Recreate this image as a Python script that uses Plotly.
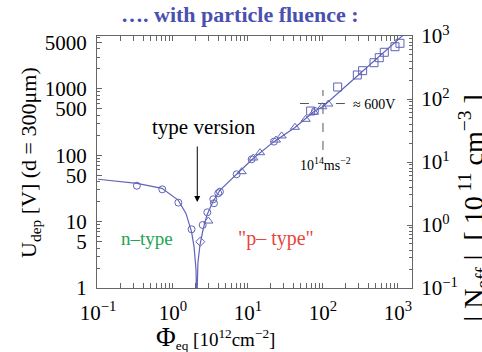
import plotly.graph_objects as go

# Depletion voltage (V) vs. equivalent fluence (10^12 cm^-2), per marker family
phi_circ = [0.33, 0.72, 1.18, 1.77, 2.49, 2.87, 3.45, 3.52, 4.02, 4.23, 7.06, 11.2, 22.2, 78.2]
u_circ = [34.7, 30.6, 19.3, 7.66, 8.89, 13.8, 21.7, 18.9, 26.7, 28.2, 51.6, 86.7, 160, 463]

phi_diam = [2.31]
u_diam = [4.98]

phi_tri = [2.96, 8.24, 11.8, 14.5, 23.6, 28.1, 42.3, 58.8, 75.9, 97.9, 118]
u_tri = [10.2, 56.4, 90.8, 109, 169, 195, 263, 347, 443, 537, 590]

phi_sq = [68.5, 157, 287, 338, 479, 563, 657, 912, 1063]
u_sq = [463, 1064, 1614, 1874, 2472, 2940, 3545, 4305, 4842]

# Fitted |U_dep| curve with type inversion near 2e12 cm^-2
phi_fit = [0.1, 0.331, 0.713, 1.17, 1.49, 1.77, 1.91, 2.03, 2.07, 2.15, 2.29, 2.51,
           2.84, 3.41, 4.24, 7.06, 11.7, 22.2, 42.3, 75.9, 100, 229, 575, 1177]
u_fit = [43.4, 37.7, 31.7, 21.1, 13.3, 7.0, 4.19, 1.87, 0.5, 2.38, 4.44, 7.47,
         12.6, 19.9, 29.9, 52.1, 89.1, 160, 261, 455, 541, 1244, 3140, 6460]

# Reference cross-hair at 10^14 cm^-2 / ~600 V
phi_h = [49.3, 196]
u_h = [600, 600]
phi_v = [100, 100]
u_v = [120, 959]

x_tickvals = [0.1, 1, 10, 100, 1000]
x_ticktext = ["10<sup>−1</sup>", "10<sup>0</sup>", "10<sup>1</sup>", "10<sup>2</sup>", "10<sup>3</sup>"]
y_tickvals = [1, 5, 10, 50, 100, 500, 1000, 5000]
y_ticktext = ["1", "5", "10", "50", "100", "500", "1000", "5000"]
y2_tickvals = [0.1, 1, 10, 100, 1000]
y2_ticktext = ["10<sup>−1</sup>", "10<sup>0</sup>", "10<sup>1</sup>", "10<sup>2</sup>", "10<sup>3</sup>"]

SERIF = "Liberation Serif, Times New Roman, serif"
BLUE = "#6063b8"
FRAME = "#666666"

fig = go.Figure()

fig.add_trace(go.Scatter(x=phi_fit, y=u_fit, mode="lines",
                         line=dict(color=BLUE, width=1.2), showlegend=False))
fig.add_trace(go.Scatter(x=phi_h, y=u_h, mode="lines",
                         line=dict(color="#555555", width=1, dash="dash"), showlegend=False))
fig.add_trace(go.Scatter(x=phi_v, y=u_v, mode="lines",
                         line=dict(color="#555555", width=1, dash="dash"), showlegend=False))

marker_line = dict(color=BLUE, width=1)
fig.add_trace(go.Scatter(x=phi_circ, y=u_circ, mode="markers", showlegend=False,
                         marker=dict(symbol="circle-open", size=7, line=marker_line, color=BLUE)))
fig.add_trace(go.Scatter(x=phi_diam, y=u_diam, mode="markers", showlegend=False,
                         marker=dict(symbol="diamond-open", size=7, line=marker_line, color=BLUE)))
fig.add_trace(go.Scatter(x=phi_tri, y=u_tri, mode="markers", showlegend=False,
                         marker=dict(symbol="triangle-up-open", size=8, line=marker_line, color=BLUE)))
fig.add_trace(go.Scatter(x=phi_sq, y=u_sq, mode="markers", showlegend=False,
                         marker=dict(symbol="square-open", size=8, line=marker_line, color=BLUE)))
# empty trace that carries the right-hand |N_eff| axis
fig.add_trace(go.Scatter(x=[], y=[], yaxis="y2", showlegend=False))

tick_font = dict(family=SERIF, size=21, color="black")
minor = dict(ticks="inside", ticklen=3, tickcolor=FRAME, dtick="D1", showgrid=False)

fig.update_layout(
    width=482, height=352,
    margin=dict(l=97, r=70, t=36, b=64),
    plot_bgcolor="white", paper_bgcolor="white",
    showlegend=False,
    xaxis=dict(type="log", range=[-1.013, 3.187], tickmode="array",
               tickvals=x_tickvals, ticktext=x_ticktext, tickfont=tick_font,
               ticklabelstandoff=6,
               ticks="inside", ticklen=5, tickcolor=FRAME, showgrid=False, zeroline=False,
               showline=True, linecolor=FRAME, linewidth=1, mirror="allticks", minor=minor),
    yaxis=dict(type="log", range=[0, 3.795], tickmode="array",
               tickvals=y_tickvals, ticktext=y_ticktext, tickfont=tick_font,
               ticklabelstandoff=5,
               ticks="inside", ticklen=5, tickcolor=FRAME, showgrid=False, zeroline=False,
               showline=True, linecolor=FRAME, linewidth=1, mirror=True, minor=minor),
    yaxis2=dict(type="log", range=[-1, 3], overlaying="y", side="right", tickmode="array",
                tickvals=y2_tickvals, ticktext=y2_ticktext, tickfont=tick_font,
                ticklabelstandoff=4,
                ticks="inside", ticklen=5, tickcolor=FRAME, showgrid=False, zeroline=False,
                showline=True, linecolor=FRAME, linewidth=1, minor=minor),
)

ann = []
# heading
ann.append(dict(text="<b>…. with particle fluence :</b>", xref="paper", yref="paper",
                x=0.454, y=1.087, xanchor="center", yanchor="middle", showarrow=False,
                font=dict(family=SERIF, size=22, color="#4a50b0")))
# axis titles
ann.append(dict(text="U<sub>dep</sub> [V] (d = 300μm)", xref="paper", yref="paper",
                x=-0.213, y=0.5, xanchor="center", yanchor="middle", textangle=-90,
                showarrow=False, font=dict(family=SERIF, size=22, color="black")))
ann.append(dict(text="<span style='font-size:27px'>Φ</span><sub>eq</sub> [10<sup>12</sup>cm<sup>−2</sup>]",
                xref="paper", yref="paper", x=0.375, y=-0.198, xanchor="center", yanchor="middle",
                showarrow=False, font=dict(family=SERIF, size=19, color="black")))
ann.append(dict(text="| N<sub>eff</sub> |  [ 10<sup> 11</sup> cm<sup>−3</sup> ]", xref="paper", yref="paper",
                x=1.263, y=0.317, xanchor="right", yanchor="middle", textangle=-90,
                showarrow=False, font=dict(family=SERIF, size=28, color="black")))
# in-plot labels
ann.append(dict(text="type version", x=0.42, y=2.42, xref="x", yref="y", showarrow=False,
                font=dict(family=SERIF, size=21, color="black")))
ann.append(dict(text="", x=0.324, y=1.295, ax=0.324, ay=2.154, xref="x", yref="y",
                axref="x", ayref="y", showarrow=True, arrowhead=2, arrowsize=1.2,
                arrowwidth=1, arrowcolor="black"))
ann.append(dict(text="n–type", x=-0.347, y=0.738, xref="x", yref="y", showarrow=False,
                font=dict(family=SERIF, size=19, color="#22a455")))
ann.append(dict(text="\"p– type\"", x=1.373, y=0.738, xref="x", yref="y", showarrow=False,
                font=dict(family=SERIF, size=20, color="#e8453c")))
ann.append(dict(text="≈ 600V", x=2.68, y=2.771, xref="x", yref="y", showarrow=False,
                font=dict(family=SERIF, size=14, color="black")))
ann.append(dict(text="10<sup>14</sup>ms<sup>−2</sup>", x=2.027, y=1.867, xref="x", yref="y",
                showarrow=False, font=dict(family=SERIF, size=14, color="black")))
fig.update_layout(annotations=ann)

fig.write_html("out.html")
